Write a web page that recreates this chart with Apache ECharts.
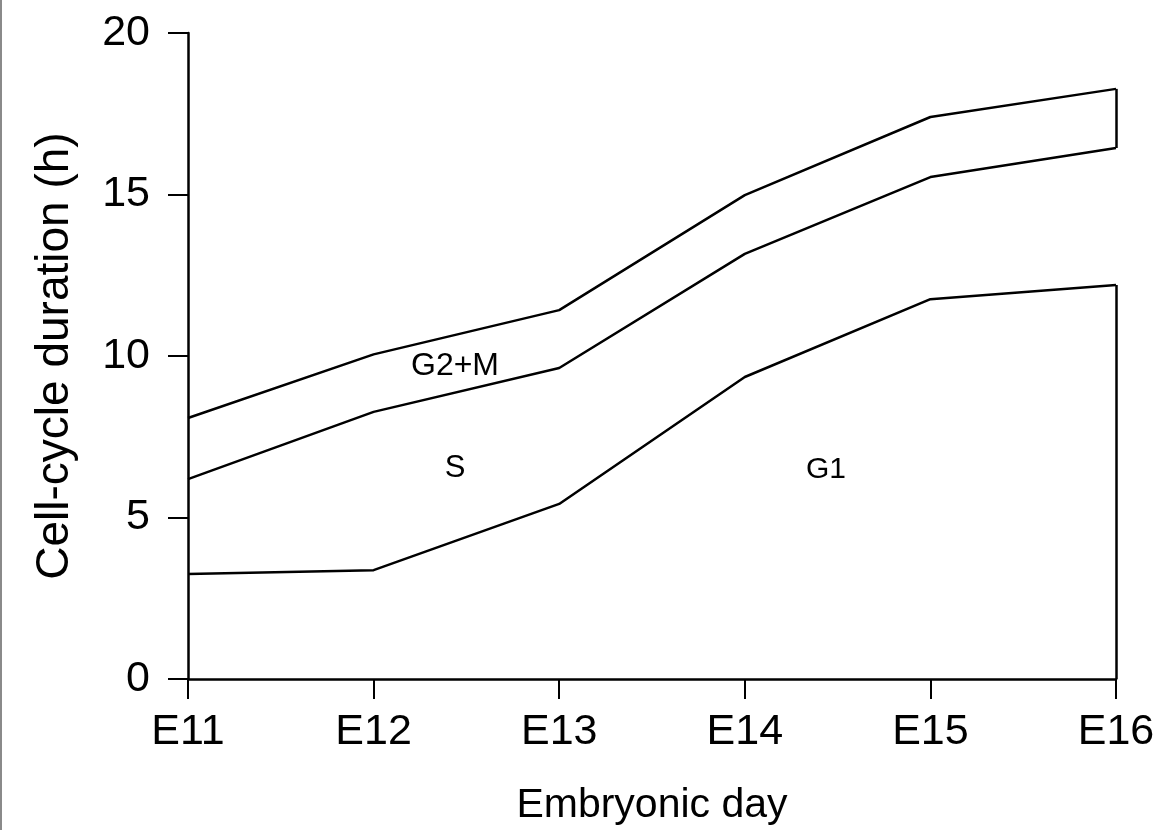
<!DOCTYPE html>
<html>
<head>
<meta charset="utf-8">
<script src="https://cdn.jsdelivr.net/npm/echarts@6/dist/echarts.min.js"></script>
<style>
html,body{margin:0;padding:0;background:#fff;}
#chart{width:1161px;height:830px;}
</style>
</head>
<body>
<div id="chart"></div>
<script>
const days = ['E11', 'E12', 'E13', 'E14', 'E15', 'E16'];
const g1End = [3.25, 3.37, 5.42, 9.35, 11.76, 12.2];
const sEnd = [6.19, 8.27, 9.63, 13.16, 15.54, 16.44];
const totalCycle = [8.08, 10.05, 11.42, 14.98, 17.4, 18.27];
const yTicks = [0, 5, 10, 15, 20];
const phaseLabels = ['G2+M', 'S', 'G1'];

const FONT = "'Liberation Sans', Arial, Helvetica, sans-serif";
const lineStyle = { color: '#000', width: 2.5 };

const chart = echarts.init(document.getElementById('chart'), null, { renderer: 'canvas' });

function lineSeries(name, data, markLineData) {
  const s = {
    name: name,
    type: 'line',
    data: data,
    symbol: 'none',
    lineStyle: lineStyle,
    silent: true,
    animation: false
  };
  if (markLineData) {
    s.markLine = {
      silent: true,
      symbol: ['none', 'none'],
      label: { show: false },
      lineStyle: { color: '#000', width: 2.5, type: 'solid' },
      data: markLineData
    };
  }
  return s;
}

const last = days.length - 1;

chart.setOption({
  animation: false,
  backgroundColor: '#fff',
  grid: { left: 188, right: 45, top: 33, bottom: 151, outerBoundsMode: 'none', containLabel: false },
  xAxis: {
    type: 'category',
    data: days,
    boundaryGap: false,
    name: 'Embryonic day',
    nameLocation: 'middle',
    nameGap: 106,
    nameTextStyle: { fontFamily: FONT, fontSize: 41, color: '#000' },
    axisLine: { lineStyle: { color: '#000', width: 2.5 } },
    axisTick: { show: true, length: 20, inside: false, lineStyle: { color: '#000', width: 2 } },
    axisLabel: { fontFamily: FONT, fontSize: 43, color: '#000', margin: 32 },
    splitLine: { show: false }
  },
  yAxis: {
    type: 'value',
    min: yTicks[0],
    max: yTicks[yTicks.length - 1],
    interval: 5,
    name: 'Cell-cycle duration (h)',
    nameLocation: 'middle',
    nameGap: 110,
    nameTextStyle: { fontFamily: FONT, fontSize: 46, color: '#000' },
    axisLine: { show: true, lineStyle: { color: '#000', width: 2.5 } },
    axisTick: { show: true, length: 20, inside: false, lineStyle: { color: '#000', width: 2 } },
    axisLabel: { fontFamily: FONT, fontSize: 43, color: '#000', margin: 38 },
    splitLine: { show: false }
  },
  series: [
    lineSeries('G1', g1End, [[{ coord: [days[last], g1End[last]] }, { coord: [days[last], 0] }]]),
    lineSeries('S', sEnd),
    lineSeries('G2+M', totalCycle, [[{ coord: [days[last], totalCycle[last]] }, { coord: [days[last], sEnd[last]] }]])
  ],
  graphic: [
    { type: 'line', shape: { x1: 1, y1: 0, x2: 1, y2: 830 }, style: { stroke: '#8a8a8a', lineWidth: 2 } },
    { type: 'text', x: 455, y: 366, style: { text: phaseLabels[0], font: "32px 'Liberation Sans', Arial, sans-serif", fill: '#000', align: 'center', verticalAlign: 'middle' } },
    { type: 'text', x: 455, y: 468, style: { text: phaseLabels[1], font: "31px 'Liberation Sans', Arial, sans-serif", fill: '#000', align: 'center', verticalAlign: 'middle' } },
    { type: 'text', x: 826, y: 470, style: { text: phaseLabels[2], font: "30px 'Liberation Sans', Arial, sans-serif", fill: '#000', align: 'center', verticalAlign: 'middle' } }
  ]
});
</script>
</body>
</html>
